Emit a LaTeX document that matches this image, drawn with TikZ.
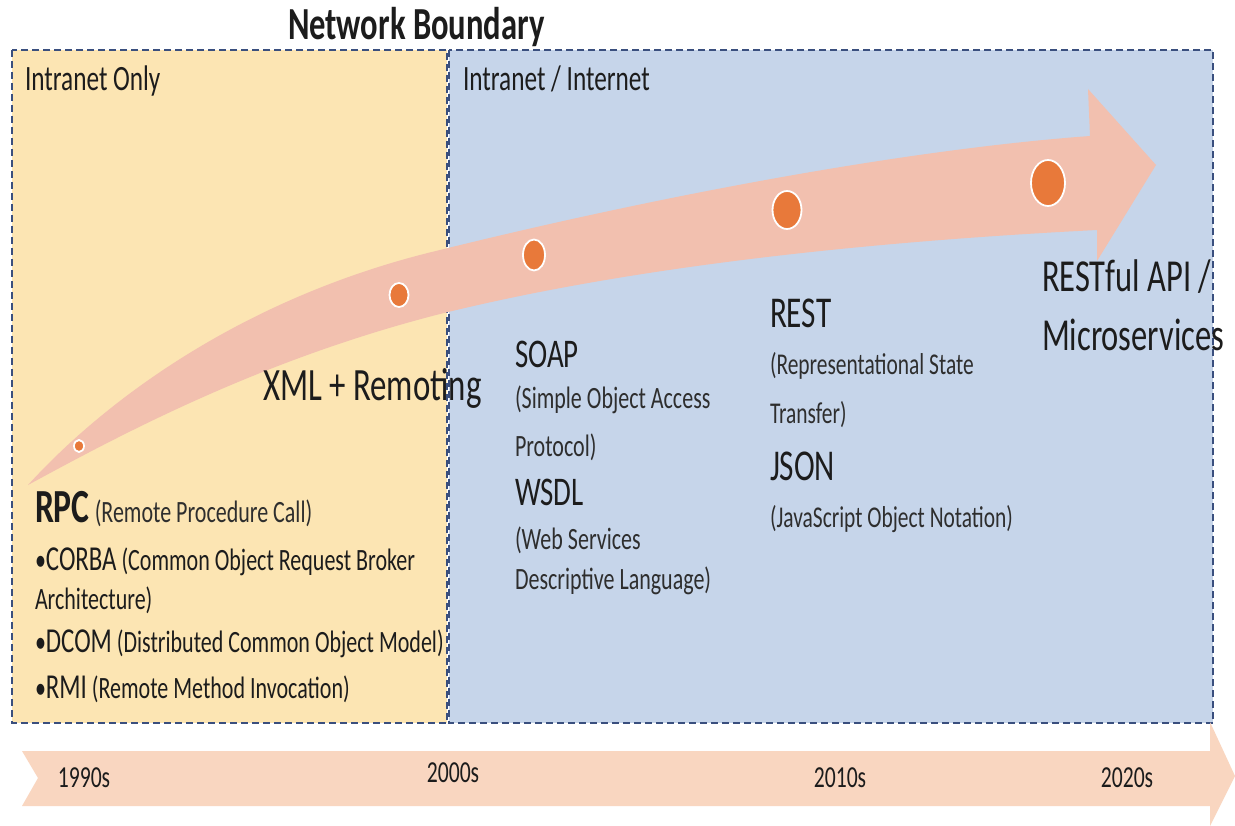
\documentclass[tikz,border=0pt]{standalone}
\usepackage{fontspec}
\setmainfont{Carlito}[FakeStretch=0.71]
\usetikzlibrary{shapes.geometric}
\definecolor{ink}{HTML}{1C1C1C}
\definecolor{softink}{HTML}{2E2E2E}
\definecolor{zoneA}{HTML}{FCE5B3}
\definecolor{zoneB}{HTML}{C6D5EA}
\definecolor{zoneline}{HTML}{3A4F7E}
\definecolor{flow}{HTML}{F2C0AF}
\definecolor{band}{HTML}{F9D6C0}
\definecolor{marker}{HTML}{E8793A}
\newcommand\sz[1]{\fontsize{#1}{#1}\selectfont}
\tikzset{
  zone/.style={draw=zoneline, line width=2.5pt, dash pattern=on 7pt off 4pt},
  lbl/.style={anchor=base west, inner sep=0pt, outer sep=0pt, text=ink},
  sub/.style={lbl, text=softink},
  year/.style={anchor=base, inner sep=0pt, text=ink},
  milestone/.style={ellipse, fill=marker, draw=white, line width=1.8pt, inner sep=0pt}
}
\begin{document}
\begin{tikzpicture}[x=1pt,y=-1pt]
\useasboundingbox (0,0) rectangle (1235,826);
\fill[white] (0,0) rectangle (1235,826);

% network zones
\fill[zoneA] (12,50) rectangle (447,723);
\fill[zoneB] (449,50) rectangle (1213,723);
\draw[zone] (12,50) rectangle (447,723);
\draw[zone] (449,50) rectangle (1213,723);

\node[lbl, font=\bfseries\sz{45.9}] (title) at (288,40) {Network Boundary};
\node[lbl, font=\sz{35.6}] (intra) at (25,91) {Intranet Only};
\node[lbl, font=\sz{35.6}] (inter) at (463,91) {Intranet / Internet};

% evolution arrow
\fill[flow] (28,485)
  .. controls (110,395) and (250,295) .. (440,250)
  .. controls (650,198) and (900,150) .. (1090,136)
  -- (1088,89) -- (1156,165) -- (1097,261) -- (1097,230)
  .. controls (900,240) and (650,262) .. (440,314)
  .. controls (260,360) and (120,435) .. (28,485) -- cycle;

\node[milestone, minimum width=10pt, minimum height=12pt] (m1) at (79,446) {};
\node[milestone, minimum width=19pt, minimum height=24pt] (m2) at (399,295) {};
\node[milestone, minimum width=22pt, minimum height=31pt] (m3) at (534,255) {};
\node[milestone, minimum width=29pt, minimum height=38pt] (m4) at (787,210) {};
\node[milestone, minimum width=34pt, minimum height=46pt] (m5) at (1048,183) {};

% era labels
\node[lbl, font=\sz{46.3}] (xml) at (263,400) {XML + Remoting};

\node[lbl, font=\sz{40.7}] (soap) at (515,368) {SOAP};
\node[sub, font=\sz{31}] (soapa) at (515,409) {(Simple Object Access};
\node[sub, font=\sz{31}] (soapb) at (515,456) {Protocol)};
\node[lbl, font=\sz{40.7}] (wsdl) at (515,505) {WSDL};
\node[sub, font=\sz{31}] (wsdla) at (515,549) {(Web Services};
\node[sub, font=\sz{31}] (wsdlb) at (515,589) {Descriptive Language)};

\node[lbl, font=\sz{44}] (rest) at (770,328) {REST};
\node[sub, font=\sz{30.2}] (resta) at (770,374) {(Representational State};
\node[sub, font=\sz{30.2}] (restb) at (770,424) {Transfer)};
\node[lbl, font=\sz{44}] (json) at (770,480) {JSON};
\node[sub, font=\sz{30.2}] (jsona) at (770,527) {(JavaScript Object Notation)};

\node[lbl, font=\sz{45.8}] (api) at (1042,292) {RESTful API /};
\node[lbl, font=\sz{45.8}] (micro) at (1042,351) {Microservices};

\node[lbl, font=\bfseries\sz{47.5}] (rpc) at (35,522) {RPC};
\node[sub, font=\sz{31}, anchor=base west] (rpca) at (rpc.base east) {~(Remote Procedure Call)};
\node[lbl, font=\sz{31}] (corba) at (35,570) {•{\sz{35}CORBA} (Common Object Request Broker};
\node[lbl, font=\sz{31}] (corbab) at (35,609) {Architecture)};
\node[lbl, font=\sz{31}] (dcom) at (35,652) {•{\sz{35}DCOM} (Distributed Common Object Model)};
\node[lbl, font=\sz{31}] (rmi) at (35,698) {•{\sz{35}RMI} (Remote Method Invocation)};

% timeline
\fill[band] (22,751) -- (1210,751) -- (1210,722) -- (1235,776) -- (1210,826)
  -- (1210,806) -- (22,806) -- (38,778) -- cycle;
\node[year, font=\sz{30.5}] (y90) at (84,787) {1990s};
\node[year, font=\sz{30.5}] (y00) at (453,782) {2000s};
\node[year, font=\sz{30.5}] (y10) at (840,787) {2010s};
\node[year, font=\sz{30.5}] (y20) at (1127,787) {2020s};
\end{tikzpicture}
\end{document}
